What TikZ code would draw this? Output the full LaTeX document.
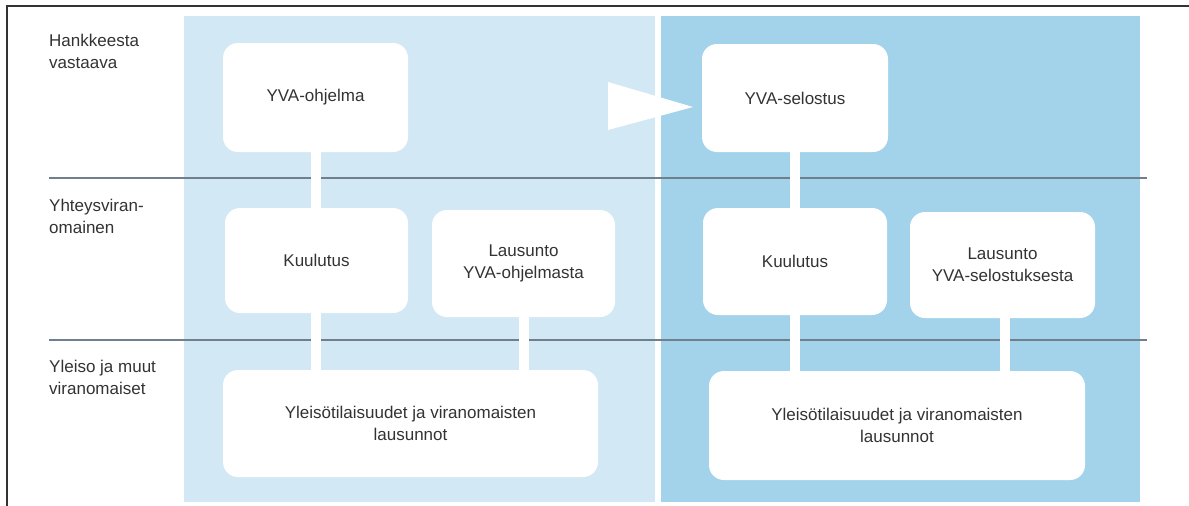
\documentclass[tikz,border=0pt]{standalone}
\usepackage{fontspec}
\setmainfont{Liberation Sans}
\definecolor{lightpanel}{HTML}{D3E8F5}
\definecolor{darkpanel}{HTML}{A3D3EB}
\definecolor{rule}{HTML}{6F808C}
\definecolor{frame}{HTML}{333333}
\definecolor{txt}{HTML}{333333}
\begin{document}
\begin{tikzpicture}[x=1pt,y=-1pt,
  every node/.style={font=\fontsize{17}{22}\selectfont, text=txt},
  stepbox/.style={rectangle, rounded corners=15pt, fill=white, draw=none, align=center, inner sep=0pt},
  rowlabel/.style={anchor=north west, align=left, inner sep=0pt},
  link/.style={white, line width=10pt},
  sepline/.style={rule, line width=1.2pt}]
\useasboundingbox (0,0) rectangle (1189,506);
\fill[white] (0,0) rectangle (1189,506);
% panels
\fill[lightpanel] (184,16) rectangle (655,502);
\fill[darkpanel] (661,16) rectangle (1140,502);
% frame
\draw[frame, line width=1.5pt] (7,506) -- (7,6) -- (1189,6);
% separator lines
\draw[sepline] (49,178) -- (1147,178);
\draw[sepline] (49,340) -- (1147,340);
% row labels
\node[rowlabel] (l1) at (49,34) {Hankkeesta\\vastaava};
\node[rowlabel] (l2) at (49,199) {Yhteysviran-\\omainen};
\node[rowlabel] (l3) at (49,360) {Yleiso ja muut\\viranomaiset};
% boxes
\node[stepbox, minimum width=185pt, minimum height=109pt] (ohj) at (315.5,97.5) {YVA-ohjelma};
\node[stepbox, minimum width=183pt, minimum height=105pt] (kuul1) at (316.5,260.5) {Kuulutus};
\node[stepbox, minimum width=183pt, minimum height=107pt] (lau1) at (523.5,263.5) {Lausunto\\YVA-ohjelmasta};
\node[stepbox, minimum width=375pt, minimum height=107pt] (yl1) at (410.5,423.5) {Yleisötilaisuudet ja viranomaisten\\lausunnot};
\node[stepbox, minimum width=186pt, minimum height=108pt] (sel) at (795,98) {YVA-selostus};
\node[stepbox, minimum width=184pt, minimum height=107pt] (kuul2) at (795,261.5) {Kuulutus};
\node[stepbox, minimum width=185pt, minimum height=106pt] (lau2) at (1002.5,265) {Lausunto\\YVA-selostuksesta};
\node[stepbox, minimum width=376pt, minimum height=109pt] (yl2) at (897,425.5) {Yleisötilaisuudet ja viranomaisten\\lausunnot};
% connectors
\draw[link] (ohj.south) -- (kuul1.north -| ohj.south);
\draw[link] (kuul1.south -| ohj.south) -- (yl1.north -| ohj.south);
\draw[link] (lau1.south) -- (lau1.south |- yl1.north);
\draw[link] (sel.south) -- (kuul2.north);
\draw[link] (kuul2.south) -- (kuul2.south |- yl2.north);
\draw[link] ([xshift=2pt]lau2.south) -- ([xshift=2pt]lau2.south |- yl2.north);
% arrow between phases
\coordinate (tipA) at (608,82);
\coordinate (tipB) at (608,130);
\coordinate (tipC) at (693,107);
\fill[white] (tipA) -- (tipC) -- (tipB) -- cycle;
\end{tikzpicture}
\end{document}
